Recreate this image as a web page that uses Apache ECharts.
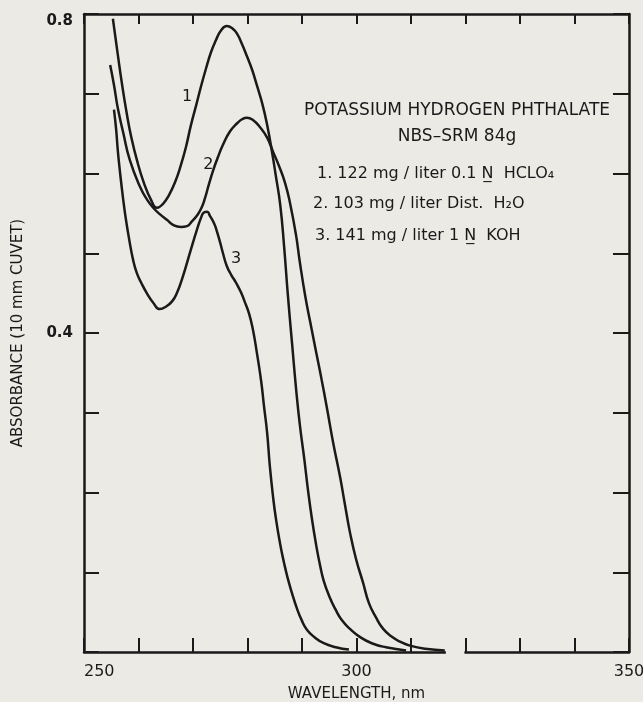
<!DOCTYPE html>
<html>
<head>
<meta charset="utf-8">
<script src="https://cdn.jsdelivr.net/npm/echarts@6/dist/echarts.min.js"></script>
<style>
  html, body { margin: 0; padding: 0; background: #ebeae5; }
  #chart { width: 643px; height: 702px; }
</style>
</head>
<body>
<div id="chart"></div>
<script>
// Absorption spectra of potassium hydrogen phthalate (wavelength in nm, absorbance, 10 mm cell)
const wavelength1 = [255.3,256.2,257.0,257.9,258.6,259.7,261.0,262.3,263.4,264.5,265.6,266.7,267.8,268.7,269.6,270.6,271.5,272.4,273.3,274.2,275.1,276.2,277.2,278.1,279.0,279.9,280.8,281.7,282.7,283.6,284.5,285.2,286.0,286.7,287.4,288.2,288.9,289.6,290.4,291.1,291.8,292.6,293.3,294.0,295.0,296.1,297.3,298.8,300.6,302.8,305.4,309.1];
const absorbance1 = [0.794,0.749,0.711,0.673,0.648,0.617,0.588,0.567,0.557,0.562,0.573,0.589,0.611,0.633,0.660,0.686,0.710,0.732,0.752,0.767,0.779,0.785,0.782,0.775,0.762,0.747,0.731,0.711,0.688,0.661,0.627,0.597,0.561,0.510,0.448,0.385,0.331,0.285,0.243,0.203,0.168,0.134,0.109,0.089,0.070,0.054,0.040,0.029,0.019,0.011,0.006,0.002];

const wavelength2 = [254.8,255.5,256.2,257.2,258.4,260.3,261.6,262.7,263.9,265.2,266.5,267.8,268.9,269.8,270.7,271.5,272.2,272.9,273.7,274.6,275.5,276.8,278.1,279.0,279.9,281.0,282.3,283.6,284.7,285.8,286.9,287.8,288.9,289.6,290.6,291.5,292.6,293.5,294.6,295.7,297.0,297.9,298.8,299.9,301.2,302.3,303.6,304.9,306.5,308.0,309.8,312.6,316.2];
const absorbance2 = [0.736,0.711,0.682,0.651,0.617,0.583,0.567,0.557,0.549,0.542,0.535,0.533,0.534,0.540,0.547,0.556,0.569,0.586,0.604,0.621,0.636,0.653,0.663,0.668,0.670,0.667,0.658,0.645,0.627,0.609,0.588,0.563,0.523,0.489,0.446,0.414,0.376,0.345,0.305,0.263,0.219,0.184,0.150,0.117,0.087,0.061,0.043,0.029,0.019,0.013,0.008,0.004,0.002];

const wavelength3 = [255.5,255.9,256.2,256.6,257.2,257.7,258.3,259.0,259.7,260.5,261.6,262.7,263.9,265.0,266.2,267.1,268.0,268.9,269.8,270.7,271.5,272.0,272.6,273.1,273.9,274.4,275.0,275.5,276.2,277.0,277.9,278.8,279.5,280.3,281.0,281.7,282.5,283.0,283.6,284.1,284.7,285.2,286.0,286.7,287.4,288.2,289.1,290.0,290.9,292.2,294.0,296.2,298.6];
const absorbance3 = [0.680,0.655,0.629,0.602,0.567,0.542,0.517,0.492,0.475,0.463,0.449,0.438,0.430,0.433,0.440,0.451,0.468,0.488,0.509,0.529,0.545,0.551,0.552,0.547,0.537,0.527,0.513,0.500,0.484,0.473,0.463,0.451,0.439,0.424,0.404,0.376,0.340,0.310,0.275,0.233,0.194,0.168,0.135,0.112,0.092,0.073,0.054,0.039,0.028,0.019,0.011,0.006,0.003];

const curveNames = ['1', '2', '3'];
const xTickLabels = [250, 300, 350];
const yTickLabels = [0.4, 0.8];

const titleLines = ['POTASSIUM HYDROGEN PHTHALATE', 'NBS\u2013SRM 84g'];
const solutionLines = [
  '1. 122 mg / liter 0.1 N\u0332  HCLO\u2084',
  '2. 103 mg / liter Dist.  H\u2082O',
  '3. 141 mg / liter 1 N\u0332  KOH'
];

// ---- layout ----
const INK = '#1b1919';
const BG = '#ebeae5';
const FONT = '"DejaVu Sans", "Liberation Sans", sans-serif';
// where each curve number sits, in data units
const curveLabelAnchors = [[268.9, 0.696], [272.8, 0.611], [277.9, 0.493]];
// short break in the drawn bottom axis line, in nm
const axisGap = [316.4, 319.8];

const chart = echarts.init(document.getElementById('chart'), null, { renderer: 'canvas' });

function zip(xs, ys) { return xs.map((x, i) => [x, ys[i]]); }
const curves = [zip(wavelength1, absorbance1), zip(wavelength2, absorbance2), zip(wavelength3, absorbance3)];

const frameLine = { show: true, onZero: false, lineStyle: { color: INK, width: 2.5 } };

const option = {
  backgroundColor: BG,
  animation: false,
  grid: { left: 84, right: 14, top: 14, bottom: 50, containLabel: false, outerBoundsMode: 'none' },
  xAxis: [
    {
      type: 'value', min: 250, max: 350, interval: 10, position: 'bottom',
      axisLine: frameLine,
      axisTick: { show: true, inside: true, length: 14, lineStyle: { color: INK, width: 2 } },
      splitLine: { show: false },
      axisLabel: {
        show: true, margin: 12, color: INK, fontFamily: FONT, fontSize: 16,
        alignMinLabel: 'left',
        formatter: v => xTickLabels.includes(Math.round(v)) ? String(Math.round(v)) : ''
      },
      name: 'WAVELENGTH, nm', nameLocation: 'middle', nameGap: 35,
      nameTextStyle: { color: INK, fontFamily: FONT, fontSize: 15 }
    },
    {
      type: 'value', min: 250, max: 350, interval: 10, position: 'top',
      axisLine: frameLine,
      axisTick: { show: true, inside: true, length: 10, lineStyle: { color: INK, width: 2 } },
      splitLine: { show: false },
      axisLabel: { show: false }
    }
  ],
  yAxis: [
    {
      type: 'value', min: 0, max: 0.8, interval: 0.1, position: 'left',
      axisLine: frameLine,
      axisTick: { show: true, inside: true, length: 15, lineStyle: { color: INK, width: 2 } },
      splitLine: { show: false },
      axisLabel: {
        show: true, margin: 11, color: INK, fontFamily: FONT, fontSize: 15, fontWeight: 'bold',
        formatter: v => {
          const r = Math.round(v * 10) / 10;
          if (!yTickLabels.includes(r)) return '';
          return r === 0.8 ? '{top|' + r.toFixed(1) + '}' : r.toFixed(1);
        },
        rich: { top: { padding: [14, 0, 0, 0], color: INK, fontFamily: FONT, fontSize: 15, fontWeight: 'bold' } }
      },
      name: 'ABSORBANCE (10 mm CUVET)', nameLocation: 'middle', nameGap: 58,
      nameTextStyle: { color: INK, fontFamily: FONT, fontSize: 15 }
    },
    {
      type: 'value', min: 0, max: 0.8, interval: 0.1, position: 'right',
      axisLine: frameLine,
      axisTick: { show: true, inside: true, length: 16, lineStyle: { color: INK, width: 2 } },
      splitLine: { show: false },
      axisLabel: { show: false }
    }
  ],
  series: curves.map((data, i) => ({
    type: 'line',
    name: curveNames[i],
    xAxisIndex: 0, yAxisIndex: 0,
    data: data,
    showSymbol: false, symbol: 'none',
    smooth: 0.5,
    lineStyle: { color: INK, width: 2.5 },
    z: 3
  }))
};

chart.setOption(option);

// annotations: curve numbers, legend text block and the small break in the bottom axis
const toPx = (x, y) => chart.convertToPixel({ xAxisIndex: 0, yAxisIndex: 0 }, [x, y]);
const graphics = [];

curveLabelAnchors.forEach((p, i) => {
  const [px, py] = toPx(p[0], p[1]);
  graphics.push({
    type: 'text', x: px, y: py, z: 10,
    style: { text: curveNames[i], font: '16px ' + FONT, fill: INK, textAlign: 'center', textVerticalAlign: 'middle', align: 'center', verticalAlign: 'middle' }
  });
});

const titleY = [111, 137];
titleLines.forEach((t, i) => {
  graphics.push({
    type: 'text', x: 457, y: titleY[i], z: 10,
    style: { text: t, font: '17px ' + FONT, fill: INK, textAlign: 'center', textVerticalAlign: 'middle', align: 'center', verticalAlign: 'middle' }
  });
});

const lineX = [317, 313, 315];
const lineY = [174, 204, 236];
solutionLines.forEach((t, i) => {
  graphics.push({
    type: 'text', x: lineX[i], y: lineY[i], z: 10,
    style: { text: t, font: '16px ' + FONT, fill: INK, textAlign: 'left', textVerticalAlign: 'middle', align: 'left', verticalAlign: 'middle' }
  });
});

const g0 = toPx(axisGap[0], 0), g1 = toPx(axisGap[1], 0);
graphics.push({
  type: 'rect', z: 100,
  shape: { x: g0[0], y: g0[1] - 3, width: g1[0] - g0[0], height: 6 },
  style: { fill: BG }
});

chart.setOption({ graphic: graphics });
</script>
</body>
</html>
